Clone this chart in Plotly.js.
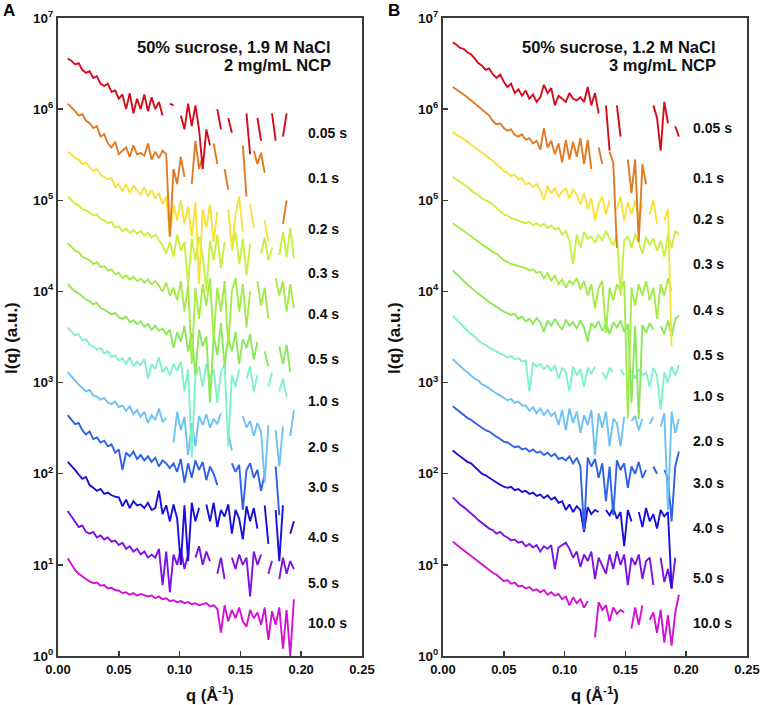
<!DOCTYPE html>
<html>
<head>
<meta charset="utf-8">
<script src="https://cdn.plot.ly/plotly-3.0.1.min.js"></script>
<style>html,body{margin:0;padding:0;background:#fff;}#chart{width:762px;height:705px;}</style>
</head>
<body>
<div id="chart"></div>
<script>
// ---------------- DATA ----------------
const q = [0.008,0.011,0.014,0.017,0.020,0.023,0.026,0.029,0.032,0.035,
  0.038,0.041,0.044,0.047,0.050,0.053,0.056,0.059,0.062,0.065,
  0.068,0.071,0.074,0.077,0.080,0.083,0.086,0.089,0.092,0.095,
  0.098,0.101,0.104,0.107,0.110,0.113,0.116,0.119,0.122,0.125,
  0.128,0.131,0.134,0.137,0.140,0.143,0.146,0.149,0.152,0.155,
  0.158,0.161,0.164,0.167,0.170,0.173,0.176,0.179,0.182,0.185,
  0.188,0.191,0.194];

const timeLabels = ["0.05 s","0.1 s","0.2 s","0.3 s","0.4 s","0.5 s","1.0 s","2.0 s","3.0 s","4.0 s","5.0 s","10.0 s"];
const conditionA = ["50% sucrose, 1.9 M NaCl", "2 mg/mL NCP"];
const conditionB = ["50% sucrose, 1.2 M NaCl", "3 mg/mL NCP"];
const panelLetters = ["A", "B"];
const xTickVals = [0, 0.05, 0.10, 0.15, 0.20, 0.25];
const xTickText = ["0.00","0.05","0.10","0.15","0.20","0.25"];
const yTickVals = [1, 10, 100, 1000, 1e4, 1e5, 1e6, 1e7];
const yTickText = ["10<sup>0</sup>","10<sup>1</sup>","10<sup>2</sup>","10<sup>3</sup>","10<sup>4</sup>","10<sup>5</sup>","10<sup>6</sup>","10<sup>7</sup>"];
const xTitle = "q (Å<sup>-1</sup>)";
const yTitle = "I(q) (a.u.)";

// Panel A
const A_005 = [3.6e6,3.4e6,3.1e6,3.2e6,2.7e6,2.5e6,2.6e6,2.2e6,2.3e6,1.9e6,
  1.8e6,1.9e6,1.55e6,1.6e6,1.3e6,1.45e6,1.0e6,1.5e6,9e5,1.3e6,
  1.0e6,1.45e6,9.5e5,1.35e6,1.0e6,1.2e6,8.5e5,null,1.15e6,1.1e6,
  null,8.5e5,6e5,1.15e6,6.5e5,1.1e6,6e5,2.2e5,6e5,4e5,
  null,1.0e6,6e5,null,8e5,5.5e5,null,null,null,9e5,
  3.2e5,null,8e5,4.5e5,null,null,9e5,4.5e5,null,5e5,
  9e5,null,null];
const A_01 = [1.15e6,1.05e6,9.5e5,8.5e5,8.8e5,7.5e5,7e5,6.2e5,6.5e5,5e5,
  5.3e5,4.2e5,3.8e5,4.4e5,3.2e5,3.5e5,3.8e5,3.0e5,4.0e5,3.2e5,
  3.3e5,3.1e5,4.2e5,2.8e5,3.4e5,2.9e5,3.5e5,3.2e5,4e4,2.2e5,
  1.5e5,3e5,1.8e5,null,1.5e5,4.5e5,2.2e5,3e5,null,null,
  4.2e5,2.5e5,null,2.2e5,1.3e5,null,null,null,4e5,1.1e5,
  null,3.5e5,2.5e5,3.3e5,2e5,null,null,null,null,5.5e4,
  1e5,null,null];
const A_02 = [3.4e5,3.2e5,2.9e5,2.8e5,2.5e5,2.6e5,2.3e5,2.1e5,2.2e5,1.9e5,
  1.8e5,1.7e5,1.75e5,1.4e5,1.5e5,1.25e5,1.5e5,1.2e5,1.45e5,1.3e5,
  1.15e5,1.4e5,1.1e5,1.3e5,1.05e5,1.2e5,9e4,1.1e5,4e4,9e4,
  6e4,1e5,5.5e4,8.5e4,4e4,9.5e4,1.2e4,8e4,5e4,9e4,
  3.5e4,7.5e4,null,null,8e4,3e4,7e4,1.1e5,4.5e4,null,
  9e4,5e4,null,null,6e4,3.5e4,null,null,null,null,
  null,null,null];
const A_03 = [1.1e5,1.0e5,9.2e4,8.8e4,8.0e4,7.8e4,7.2e4,6.8e4,7.0e4,6.2e4,
  6.0e4,5.6e4,5.8e4,5.0e4,5.2e4,4.6e4,4.9e4,4.4e4,4.7e4,4.3e4,
  4.6e4,4.1e4,4.4e4,3.9e4,4.2e4,3.6e4,3.2e4,2.6e4,3.5e4,2.4e4,
  4.2e4,2.8e4,3.5e4,1.2e4,3.8e4,2.2e4,4.0e4,2.5e4,1.0e4,3.6e4,
  2.2e4,4.2e4,1.8e4,3.5e4,null,2.8e4,4.5e4,2.0e4,3.8e4,1.5e4,
  3.3e4,null,null,2.6e4,3.9e4,2.2e4,3.0e4,null,2.5e4,4.5e4,
  2.4e4,5e4,2.3e4];
const A_04 = [3.4e4,3.1e4,2.8e4,2.7e4,2.4e4,2.3e4,2.2e4,2.0e4,2.1e4,1.85e4,
  1.9e4,1.7e4,1.75e4,1.55e4,1.6e4,1.4e4,1.5e4,1.35e4,1.45e4,1.3e4,
  1.38e4,1.25e4,1.35e4,1.2e4,1.3e4,1.15e4,1.0e4,1.25e4,9e3,1.1e4,
  8e3,1.3e4,6e3,1.2e4,1.6e3,1.1e4,5e3,1.2e4,7e3,1.4e4,
  3e3,1.1e4,6e3,1.3e4,2.5e3,1.0e4,1.4e4,6e3,1.2e4,4e3,
  1.0e4,null,1.3e4,7e3,1.1e4,5e3,null,1.4e4,9e3,1.3e4,
  6e3,1.2e4,6.5e3];
const A_05 = [1.2e4,1.1e4,1.0e4,9.5e3,8.8e3,8.2e3,7.8e3,7.2e3,7.5e3,6.6e3,
  6.3e3,6.0e3,5.6e3,5.8e3,5.2e3,5.0e3,5.3e3,4.6e3,4.8e3,4.4e3,
  4.7e3,4.1e3,4.4e3,3.8e3,4.2e3,3.7e3,3.9e3,3.4e3,3.8e3,2.4e3,
  3.6e3,2.8e3,4.2e3,2.2e3,3.5e3,1.2e3,3.8e3,2.5e3,3.2e3,6e2,
  3.3e3,2.0e3,4.5e3,1.5e3,3.2e3,2.2e3,3.6e3,1.6e3,3.0e3,2.4e3,
  3.4e3,1.8e3,2.8e3,null,2.2e3,1.5e3,null,null,2.5e3,1.6e3,
  2.6e3,1.3e3,null];
const A_10 = [4.0e3,3.6e3,3.3e3,3.4e3,2.9e3,3.0e3,2.6e3,2.5e3,2.3e3,2.4e3,
  2.1e3,2.2e3,1.9e3,2.0e3,1.75e3,1.85e3,1.6e3,1.9e3,1.5e3,1.7e3,
  1.55e3,1.8e3,1.1e3,1.6e3,1.4e3,1.9e3,1.3e3,1.5e3,1.2e3,1.6e3,
  1.35e3,1.7e3,8e2,1.4e3,1.5e2,1.2e3,1.5e3,9e2,1.6e3,1.1e3,
  1.4e3,6e2,1.3e3,1.6e3,2.0e2,1.2e3,9e2,1.4e3,null,1.1e3,
  1.5e3,8e2,1.2e3,null,null,9e2,1.3e3,null,8e2,1.1e3,
  7e2,null,null];
const A_20 = [1.3e3,1.15e3,1.05e3,9.5e2,8.8e2,8.0e2,8.3e2,7.2e2,7.0e2,6.5e2,
  6.8e2,6.0e2,5.8e2,6.2e2,5.4e2,5.6e2,4.9e2,5.5e2,4.5e2,5.0e2,
  4.2e2,4.8e2,3.6e2,4.4e2,3.9e2,5.2e2,3.7e2,4.1e2,null,2.2e2,
  4.8e2,3.0e2,4.2e2,1.6e2,3.6e2,2.0e2,4.3e2,3.4e2,4.5e2,3.2e2,
  4.0e2,3.5e2,4.6e2,null,2.8e2,1.8e2,null,null,4.3e2,3.2e2,
  3.8e2,2.6e2,3.6e2,2.9e2,8e1,3.4e2,null,3.0e2,1.2e2,3.3e2,
  null,2.6e2,5.0e2];
const A_30 = [4.4e2,3.9e2,3.5e2,3.6e2,3.0e2,2.7e2,2.9e2,2.4e2,2.5e2,2.2e2,
  2.3e2,2.0e2,2.1e2,1.7e2,1.85e2,1.1e2,1.7e2,1.55e2,1.75e2,1.45e2,
  1.6e2,1.4e2,1.55e2,1.35e2,1.5e2,1.2e2,1.4e2,1.3e2,1.15e2,1.3e2,
  1.05e2,1.45e2,8e1,1.3e2,9e1,1.4e2,1.1e2,1.35e2,8.5e1,1.2e2,
  1.0e2,7.5e1,null,null,null,1.3e2,1.05e2,1.25e2,4e1,1.1e2,
  1.3e2,9e1,1.1e2,6.5e1,1.0e2,null,null,1.2e2,3.5e1,null,
  null,null,null];
const A_40 = [1.35e2,1.2e2,1.1e2,9.8e1,8.8e1,9.2e1,7.5e1,7.0e1,6.5e1,6.8e1,
  6.0e1,6.2e1,5.8e1,5.6e1,5.5e1,4.4e1,5.2e1,4.2e1,5.0e1,4.5e1,
  4.6e1,4.2e1,4.8e1,4.0e1,4.2e1,6.5e1,3.6e1,4.5e1,3.0e1,4.6e1,
  3.2e1,1.0e1,4.5e1,1.1e1,4.8e1,3.0e1,4.2e1,null,4.6e1,3.0e1,
  4.8e1,2.6e1,4.0e1,3.4e1,4.6e1,2.2e1,4.0e1,3.2e1,1.9e1,4.4e1,
  3.0e1,4.2e1,2.5e1,null,4.5e1,1.7e1,null,4.0e1,1.1e1,4.5e1,
  null,2.2e1,3.0e1];
const A_50 = [3.9e1,3.4e1,3.0e1,2.6e1,2.7e1,2.3e1,2.2e1,2.3e1,2.0e1,2.1e1,
  1.9e1,2.0e1,1.8e1,1.85e1,1.65e1,1.75e1,1.5e1,1.6e1,1.4e1,1.5e1,
  1.3e1,1.4e1,1.2e1,1.3e1,1.2e1,1.5e1,6,1.4e1,5,1.3e1,
  1.0e1,1.5e1,9,1.3e1,null,1.2e1,1.6e1,1.0e1,1.4e1,1.1e1,
  null,8,1.2e1,7,null,1.2e1,9,1.3e1,1.0e1,1.2e1,
  4.5,1.4e1,1.0e1,1.3e1,null,8,1.1e1,null,7,1.2e1,
  8,1.1e1,9];
const A_100 = [11.8,10.0,8.8,8.0,7.4,7.0,6.6,6.3,6.4,5.9,
  6.0,5.5,5.6,5.3,5.2,4.9,5.0,4.7,4.9,4.6,
  4.8,4.6,4.5,4.6,4.3,4.5,4.2,4.3,4.0,4.1,
  3.9,4.0,3.8,3.9,3.7,3.8,3.6,3.7,3.8,3.5,
  3.6,3.3,1.8,3.6,2.4,3.2,2.6,3.4,2.4,2.1,
  3.2,2.6,3.0,2.2,3.4,1.5,3.1,2.2,3.4,1.2,
  3.2,1.0,4.2];

// Panel B
const B_005 = [5.4e6,5.1e6,4.7e6,4.6e6,4.2e6,4.0e6,3.6e6,3.2e6,3.0e6,2.7e6,
  2.8e6,2.4e6,2.2e6,2.4e6,2.0e6,1.75e6,1.9e6,1.5e6,1.65e6,1.4e6,
  1.6e6,1.3e6,1.45e6,1.2e6,1.35e6,1.85e6,1.5e6,1.7e6,1.1e6,1.4e6,
  1.3e6,1.2e6,1.5e6,1.3e6,1.25e6,1.35e6,1.2e6,1.75e6,1.1e6,1.5e6,
  9e5,null,1.1e6,3.5e5,null,1.1e6,5e5,null,null,null,
  null,null,null,null,null,1.1e6,8e5,3.5e5,1.2e6,7e5,
  null,6.5e5,5e5];
const B_01 = [1.75e6,1.65e6,1.55e6,1.45e6,1.35e6,1.25e6,1.15e6,1.05e6,9.8e5,9e5,
  8.5e5,7.4e5,6.8e5,7e5,6.2e5,5.8e5,6.0e5,5.2e5,5.0e5,5.3e5,
  4.6e5,4.8e5,4.2e5,4.5e5,3.6e5,6.2e5,3.8e5,4.5e5,3.2e5,4.2e5,
  2.6e5,4.6e5,2.8e5,4.4e5,3.0e5,4.8e5,2.5e5,4.6e5,2.2e5,null,
  3.8e5,2.5e5,null,3.4e5,2.6e5,3e4,null,null,2.8e5,1.2e5,
  2.8e5,3.5e4,2.5e5,1.5e5,null,null,null,null,null,null,
  null,null,null];
const B_02 = [5.6e5,5.3e5,5.0e5,4.7e5,4.4e5,4.1e5,3.8e5,3.6e5,3.3e5,3.1e5,
  2.9e5,2.7e5,2.5e5,2.3e5,2.1e5,2.0e5,1.85e5,1.9e5,1.7e5,1.75e5,
  1.5e5,1.55e5,1.4e5,1.5e5,1.3e5,1.0e5,1.45e5,1.2e5,1.35e5,1.1e5,
  1.25e5,1.35e5,1.05e5,1.3e5,1.15e5,9e4,1.2e5,8e4,1.05e5,6e4,
  9e4,1.1e5,7e4,1.0e5,null,8e4,1.1e5,6e4,9.5e4,7e4,
  1.0e5,6.5e4,9e4,null,7e4,1.0e5,5.5e4,null,6e4,8e4,
  2.5e3,null,null];
const B_03 = [1.8e5,1.7e5,1.6e5,1.5e5,1.4e5,1.3e5,1.2e5,1.15e5,1.05e5,1.0e5,
  9.6e4,9.0e4,8.2e4,7.6e4,7.0e4,6.8e4,6.4e4,6.2e4,6.0e4,5.8e4,
  5.6e4,5.8e4,5.3e4,5.6e4,5.2e4,5.5e4,5.0e4,5.3e4,4.8e4,5.0e4,
  4.2e4,4.6e4,3.6e4,2.0e4,4.2e4,3.0e4,4.5e4,3.8e4,4.0e4,3.4e4,
  4.2e4,3.6e4,4.6e4,3.8e4,3.2e4,4.2e4,9e3,3.6e4,4.0e4,3.0e4,
  4.3e4,3.4e4,2.6e4,4.0e4,3.2e4,3.8e4,2.8e4,3.6e4,2.4e4,4.2e4,
  3.0e4,4.6e4,4.2e4];
const B_04 = [5.6e4,5.2e4,4.9e4,4.6e4,4.3e4,4.0e4,3.7e4,3.5e4,3.3e4,3.1e4,
  2.9e4,2.7e4,2.6e4,2.4e4,2.2e4,2.1e4,2.0e4,1.95e4,1.9e4,1.85e4,
  1.8e4,1.7e4,1.75e4,1.6e4,1.65e4,1.4e4,1.6e4,1.3e4,1.5e4,1.2e4,
  1.35e4,1.1e4,1.3e4,1.2e4,1.4e4,1.05e4,1.3e4,9e3,1.2e4,6.5e3,
  1.1e4,1.3e4,3.5e3,1.1e4,8e3,1.2e4,1.0e4,1.3e4,4e2,1.1e4,
  7e3,1.2e4,9e3,1.3e4,8e3,1.1e4,5e3,1.2e4,9e3,1.4e4,
  1.0e4,null,null];
const B_05 = [1.7e4,1.55e4,1.4e4,1.3e4,1.2e4,1.1e4,1.02e4,9.5e3,8.8e3,8.3e3,
  7.6e3,7.2e3,6.8e3,6.3e3,6.0e3,5.8e3,5.5e3,5.7e3,5.0e3,5.3e3,
  4.7e3,5.0e3,4.4e3,5.1e3,4.6e3,3.6e3,4.8e3,4.2e3,5.0e3,4.3e3,
  3.8e3,4.9e3,4.2e3,4.6e3,3.9e3,4.8e3,4.0e3,2.8e3,4.5e3,4.0e3,
  4.7e3,3.7e3,4.4e3,3.4e3,4.6e3,4.0e3,4.8e3,3.6e3,4.4e3,6e2,
  4.2e3,4e2,4.3e3,3.5e3,4.5e3,3.8e3,null,4.2e3,3.4e3,4.8e3,
  3.2e3,5.0e3,5.4e3];
const B_10 = [5.4e3,4.9e3,4.4e3,4.0e3,3.7e3,3.4e3,3.2e3,2.9e3,2.7e3,2.6e3,
  2.4e3,2.3e3,2.2e3,2.1e3,2.0e3,1.9e3,1.95e3,1.8e3,1.85e3,1.7e3,
  1.75e3,8e2,1.65e3,1.5e3,1.6e3,1.4e3,1.55e3,1.35e3,1.55e3,1.1e3,
  1.45e3,1.3e3,8e2,1.5e3,1.2e3,1.4e3,9e2,1.45e3,1.25e3,1.5e3,
  null,1.3e3,1.1e3,1.45e3,1.3e3,null,1.4e3,1.2e3,null,1.35e3,
  1.1e3,1.4e3,1.2e3,1.3e3,9e2,1.45e3,1.2e3,5e2,1.3e3,1.0e3,
  1.5e3,1.2e3,1.55e3];
const B_20 = [1.8e3,1.65e3,1.5e3,1.4e3,1.3e3,1.2e3,1.1e3,1.05e3,9.6e2,9.2e2,
  8.6e2,8.2e2,7.6e2,7.2e2,6.8e2,6.4e2,6.6e2,6.0e2,6.2e2,5.6e2,
  5.6e2,4.9e2,5.4e2,4.6e2,5.2e2,4.4e2,5.0e2,4.3e2,4.7e2,3.4e2,
  5.0e2,3.0e2,5.2e2,3.6e2,4.8e2,2.8e2,4.4e2,3.4e2,5.0e2,1.6e2,
  4.6e2,3.2e2,4.8e2,2.0e2,4.0e2,3.6e2,2.0e2,4.2e2,null,3.8e2,
  4.3e2,3.0e2,4.0e2,null,3.5e2,4.2e2,null,3.3e2,4.6e2,4e1,
  4.8e2,2.8e2,4.0e2];
const B_30 = [5.5e2,5.1e2,4.7e2,4.4e2,4.1e2,3.9e2,3.6e2,3.4e2,3.2e2,3.0e2,
  2.9e2,2.7e2,2.55e2,2.4e2,2.25e2,2.2e2,2.05e2,1.95e2,2.0e2,1.85e2,
  1.9e2,1.75e2,1.85e2,1.7e2,1.75e2,1.6e2,1.7e2,1.55e2,1.65e2,1.45e2,
  1.5e2,1.4e2,1.55e2,1.3e2,1.5e2,1.2e2,2.4e1,1.5e2,1.2e2,1.45e2,
  9e1,1.3e2,5e1,1.2e2,3.5e1,1.4e2,1.1e2,1.3e2,7e1,1.2e2,
  1.0e2,1.35e2,9e1,1.1e2,null,1.2e2,1.0e2,null,1.1e2,9e1,
  3e1,1.2e2,1.75e2];
const B_40 = [1.8e2,1.65e2,1.55e2,1.45e2,1.35e2,1.3e2,1.2e2,1.1e2,1.0e2,9.6e1,
  9.0e1,8.6e1,8.0e1,7.6e1,7.2e1,7.0e1,7.2e1,6.6e1,6.8e1,6.3e1,
  6.5e1,6.0e1,6.2e1,5.7e1,5.9e1,5.4e1,5.8e1,5.2e1,5.5e1,4.8e1,
  5.0e1,4.0e1,4.6e1,3.8e1,4.4e1,4.0e1,2.3e1,4.3e1,3.6e1,4.0e1,
  3.8e1,null,4.0e1,3.5e1,4.2e1,3.2e1,3.8e1,1.6e1,4.0e1,3.0e1,
  null,3.8e1,2.6e1,4.2e1,3.0e1,3.6e1,2.5e1,4.0e1,3.4e1,3.8e1,
  5.5,null,null];
const B_50 = [5.5e1,5.0e1,4.6e1,4.3e1,4.0e1,3.7e1,3.4e1,3.1e1,2.9e1,2.7e1,
  2.5e1,2.4e1,2.2e1,2.3e1,2.1e1,2.0e1,1.85e1,1.9e1,1.75e1,1.8e1,
  1.6e1,1.7e1,1.55e1,1.65e1,1.4e1,1.6e1,1.5e1,1.65e1,9,1.55e1,
  1.65e1,1.75e1,1.5e1,1.2e1,1.4e1,9.5,1.3e1,1.1e1,1.4e1,7,
  1.2e1,1.0e1,8,1.3e1,9,1.4e1,1.0e1,1.3e1,6,1.2e1,
  1.0e1,1.3e1,7,1.1e1,1.2e1,6,null,1.2e1,6.5,9,
  5.5,1.2e1,null];
const B_100 = [18,16.5,15.5,14.5,13.5,12.5,11.5,10.8,10.0,9.4,
  8.8,8.2,7.8,7.2,6.6,6.8,6.2,6.4,5.8,5.9,
  5.5,5.7,5.2,5.4,5.0,5.3,4.7,5.0,4.6,4.8,
  4.2,4.5,3.6,4.4,3.8,4.2,3.4,4.0,null,1.6,
  3.9,3.2,3.6,2.4,3.4,2.9,3.2,3.0,null,2.0,
  3.4,2.2,3.6,null,2.5,3.0,1.8,3.2,1.4,2.8,
  1.3,3.0,4.7];

// ---------------- STYLE / LAYOUT ----------------
const seriesA = [A_005,A_01,A_02,A_03,A_04,A_05,A_10,A_20,A_30,A_40,A_50,A_100];
const seriesB = [B_005,B_01,B_02,B_03,B_04,B_05,B_10,B_20,B_30,B_40,B_50,B_100];
const colors = ['#d40d1b','#e07b24','#f7e23d','#c6f13e','#a3ec47','#8be85a',
                '#80f2c6','#6ec2f3','#2e62e9','#1a10d9','#7d12e2','#d311d3'];
// label vertical positions (pixel rows in the 705-px figure)
const labelRowsA = [133,178,229,273,314,359,401,447,487,537,583,623];
const labelRowsB = [128,178,219,264,310,355,396,441,483,528,578,623];

const W = 762, H = 705;
const FONT = 'Arial, "Liberation Sans", Helvetica, sans-serif';
const px = x => x / W;
const py = y => 1 - y / H;

const traces = [];
function addPanel(series, xa, ya) {
  for (let k = series.length - 1; k >= 0; k--) {
    traces.push({
      x: q, y: series[k], xaxis: xa, yaxis: ya,
      type: 'scatter', mode: 'lines', connectgaps: false,
      line: {color: colors[k], width: 1.9},
      hoverinfo: 'skip', showlegend: false
    });
  }
}
addPanel(seriesA, 'x', 'y');
addPanel(seriesB, 'x2', 'y2');

const axisCommon = {
  showline: true, mirror: true, linecolor: '#3a3a3a', linewidth: 2,
  ticks: 'inside', ticklen: 5, tickwidth: 1.5, tickcolor: '#3a3a3a',
  showgrid: false, zeroline: false,
  tickfont: {family: FONT, size: 13, color: '#111', weight: 'bold'}
};
const xAxis = (dom, anchor) => Object.assign({}, axisCommon, {
  domain: dom, anchor: anchor, range: [0, 0.25], tickmode: 'array',
  tickvals: xTickVals, ticktext: xTickText
});
const yAxis = (anchor) => Object.assign({}, axisCommon, {
  domain: [py(656), py(18)], anchor: anchor, type: 'log', range: [0, 7],
  tickmode: 'array', tickvals: yTickVals, ticktext: yTickText,
  tickfont: {family: FONT, size: 13.5, color: '#111', weight: 'bold'}
});

const annotations = [];
function ann(text, x, y, opts) {
  annotations.push(Object.assign({
    text: text, x: x, y: y, xref: 'paper', yref: 'paper', showarrow: false,
    xanchor: 'center', yanchor: 'middle',
    font: {family: FONT, size: 14, color: '#111', weight: 'bold'}
  }, opts || {}));
}
function panelText(left, cond, rows, letter, yTitleX, xTitleX) {
  ann(letter, px(left - 49), py(10), {font: {family: FONT, size: 17, color: '#000', weight: 'bold'}});
  ann(cond[0], px(left + 275), py(47), {xanchor: 'right', font: {family: FONT, size: 16.5, color: '#111', weight: 'bold'}});
  ann(cond[1], px(left + 275), py(65), {xanchor: 'right', font: {family: FONT, size: 16.5, color: '#111', weight: 'bold'}});
  rows.forEach((r, i) => {
    ann(timeLabels[i], px(left + 248), py(r), {xanchor: 'left'});
  });
  ann(yTitle, px(yTitleX), py(338), {textangle: -90, font: {family: FONT, size: 17, color: '#111', weight: 'bold'}});
  ann(xTitle, px(xTitleX), py(694), {font: {family: FONT, size: 16.5, color: '#111', weight: 'bold'}});
}
panelText(58, conditionA, labelRowsA, panelLetters[0], 11, 210);
panelText(443, conditionB, labelRowsB, panelLetters[1], 394, 595);

const layout = {
  width: W, height: H,
  margin: {l: 0, r: 0, t: 0, b: 0},
  paper_bgcolor: '#fff', plot_bgcolor: '#fff',
  showlegend: false,
  font: {family: FONT, color: '#111'},
  xaxis: xAxis([px(58), px(362)], 'y'),
  yaxis: yAxis('x'),
  xaxis2: xAxis([px(443), px(747)], 'y2'),
  yaxis2: yAxis('x2'),
  annotations: annotations
};

Plotly.newPlot('chart', traces, layout, {staticPlot: true, displayModeBar: false});
</script>
</body>
</html>
